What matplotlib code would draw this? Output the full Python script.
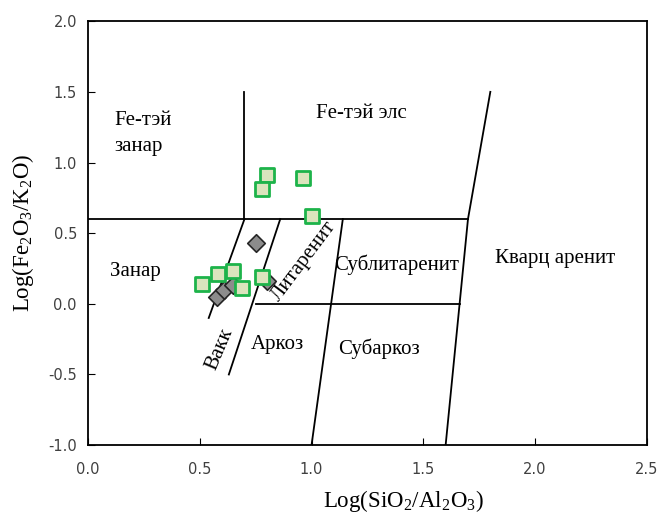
import matplotlib.pyplot as plt

plt.rcParams["mathtext.fontset"] = "custom"
plt.rcParams["mathtext.rm"] = "Liberation Serif"

# field boundaries (Herron-type diagram)
boundaries = [
    ([0.0, 1.7], [0.6, 0.6]),
    ([0.7, 0.7], [0.6, 1.5]),
    ([1.7, 1.8], [0.6, 1.5]),
    ([1.7, 1.6], [0.6, -1.0]),
    ([0.7, 0.54], [0.6, -0.1]),
    ([0.86, 0.63], [0.6, -0.5]),
    ([1.14, 1.0], [0.6, -1.0]),
    ([0.75, 1.6625], [0.0, 0.0]),
]

sq_x = [0.80, 0.78, 0.96, 1.00, 0.51, 0.58, 0.65, 0.69, 0.78]
sq_y = [0.91, 0.81, 0.89, 0.62, 0.14, 0.21, 0.23, 0.11, 0.19]

dm_x = [0.75, 0.575, 0.61, 0.65, 0.80]
dm_y = [0.43, 0.05, 0.10, 0.13, 0.16]


def main():
    fig = plt.figure(figsize=(6.62, 5.17), dpi=100)
    ax = fig.add_axes([0.133, 0.139, 0.844, 0.82])

    for xs, ys in boundaries:
        ax.plot(xs, ys, color="black", lw=1.3, zorder=1)

    serif = "Liberation Serif"
    fs = 15
    ax.text(0.12, 1.3, "Fe-тэй", family=serif, fontsize=fs, va="center")
    ax.text(0.12, 1.11, "занар", family=serif, fontsize=fs, va="center")
    ax.text(1.02, 1.35, "Fe-тэй элс", family=serif, fontsize=fs, va="center")
    ax.text(0.1, 0.23, "Занар", family=serif, fontsize=fs, va="center")
    ax.text(1.1, 0.28, "Сублитаренит", family=serif, fontsize=fs, va="center")
    ax.text(1.82, 0.32, "Кварц аренит", family=serif, fontsize=fs, va="center")
    ax.text(0.73, -0.29, "Аркоз", family=serif, fontsize=fs, va="center")
    ax.text(1.12, -0.32, "Субаркоз", family=serif, fontsize=fs, va="center")
    ax.text(0.965, 0.3, "Литаренит", family=serif, fontsize=fs,
            ha="center", va="center", rotation=53)
    ax.text(0.59, -0.32, "Вакк", family=serif, fontsize=fs,
            ha="center", va="center", rotation=67)

    ax.scatter(dm_x, dm_y, marker="D", s=80, facecolor="#8c8c8c",
               edgecolor="#262626", linewidth=1.2, zorder=3)
    ax.scatter(sq_x, sq_y, marker="s", s=110, facecolor="#dbe4bd",
               edgecolor="#1db34a", linewidth=2, zorder=4)

    ax.set_xlim(0, 2.5)
    ax.set_ylim(-1.0, 2.0)
    ax.set_xticks([0, 0.5, 1.0, 1.5, 2.0, 2.5])
    ax.set_yticks([-1.0, -0.5, 0, 0.5, 1.0, 1.5, 2.0])
    ax.xaxis.set_major_formatter(plt.FormatStrFormatter("%.1f"))
    ax.yaxis.set_major_formatter(plt.FormatStrFormatter("%.1f"))
    ax.tick_params(direction="in", length=5, labelsize=10.5, colors="black",
                   labelcolor="#404040", pad=12)
    ax.tick_params(axis="y", pad=8)
    for sp in ax.spines.values():
        sp.set_linewidth(1.3)

    ax.set_xlabel(r"Log(SiO$_\mathregular{2}$/Al$_\mathregular{2}$O$_\mathregular{3}$)",
                  family=serif, fontsize=16.5)
    ax.xaxis.set_label_coords(0.565, -0.1)
    ax.set_ylabel(r"Log(Fe$_\mathregular{2}$O$_\mathregular{3}$/K$_\mathregular{2}$O)",
                  family=serif, fontsize=16.5, labelpad=9)

    fig.savefig("out.png", dpi=100)


if __name__ == "__main__":
    main()
